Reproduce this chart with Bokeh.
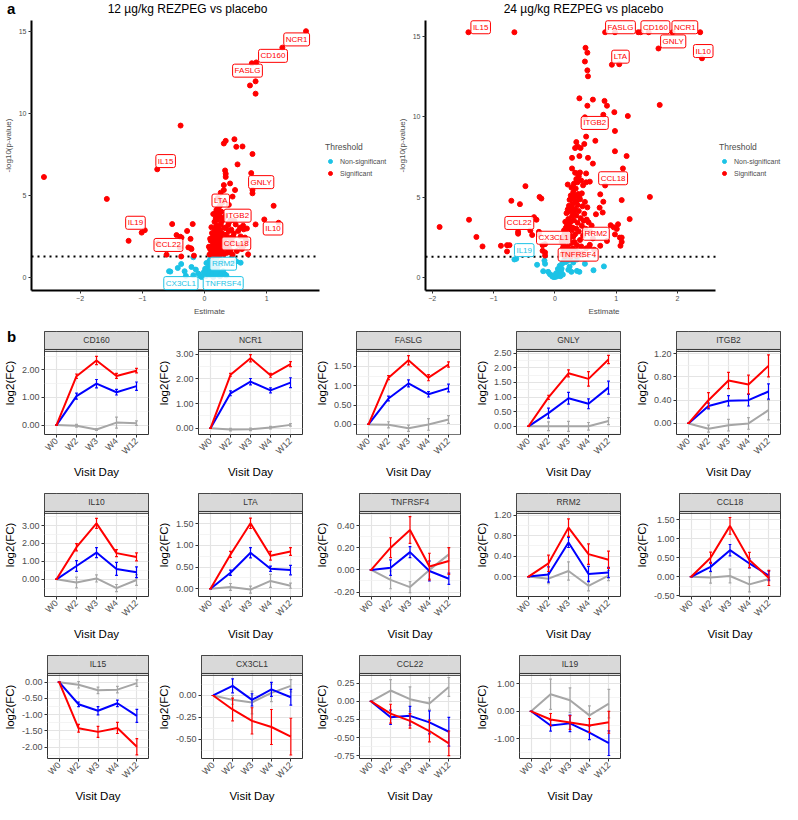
import math
from bokeh.plotting import figure
from bokeh.models import (Range1d, Label, Span, Legend, LegendItem, FixedTicker,
                          NumeralTickFormatter, Div)
from bokeh.layouts import row, column
from bokeh.embed import file_html
from bokeh.resources import INLINE

FONT = "Liberation Sans"
RED = "#FF0000"
CYAN = "#1CC3E6"
BLUE = "#0000FF"
GREY = "#A6A6A6"

# ---------------- volcano data (12 ug/kg) ----------------
v12_sig_est = [1.63, 1.25, 0.83, 0.76, 0.82, 0.73, 0.82, -0.385, -0.76, -2.58, -1.57, -1.01, -0.96, -1.22,
               -0.52, -0.19, -0.28, -0.39, -0.37, -0.225, -0.75, -0.40, -0.26, -0.21, -0.61, -0.375, -0.17,
               -0.45, -0.22, 0.34, 0.31, 0.48, 0.51, 0.61, 0.77, 0.53, 0.33, 0.34, 0.34, 0.75, 0.41, 0.31,
               0.77, 0.77, 0.49, 0.31, 0.26, 0.45, 0.21, 1.11, 0.39, 0.21, 0.26, 0.18, 0.96, 1.19, 0.82, 0.50,
               0.39, 0.68, 0.63, 0.57, 0.39, 0.65, 0.70, 0.42, 0.55, 0.60, 0.67, 0.47, 0.44,
               0.08, 0.11, 0.09, 0.13, 0.15, 0.12, 0.14, 0.10, 0.16, 0.18, 0.17, 0.19, 0.21, 0.20, 0.22, 0.23,
               0.24, 0.25, 0.13, 0.15, 0.17, 0.19, 0.16, 0.18, 0.20, 0.21, 0.22, 0.24, 0.26, 0.27, 0.28, 0.29,
               0.30, 0.31, 0.26, 0.28, 0.23, 0.25, 0.27, 0.30, 0.32, 0.33, 0.35, 0.36, 0.34, 0.37, 0.38, 0.40,
               0.41, 0.43, 0.45, 0.14, 0.12, 0.11, 0.09, 0.07, 0.19, 0.22, 0.25, 0.29, 0.23, 0.21, 0.18, 0.16,
               0.20, 0.26, 0.31, 0.33, 0.28, 0.15, 0.13, 0.24, 0.35, 0.39, 0.42, 0.46, 0.48, 0.52, 0.54, 0.58,
               0.63, 0.62]
v12_sig_nlp = [15.0, 14.0, 13.1, 13.05, 11.95, 11.7, 11.2, 9.26, 6.6, 6.13, 4.8, 2.75, 2.9, 2.25,
               3.27, 3.27, 2.85, 2.5, 2.45, 2.37, 2.1, 1.85, 1.85, 1.75, 1.41, 1.3, 1.35,
               2.6, 1.8, 8.33, 8.17, 8.43, 7.97, 7.99, 7.53, 6.9, 6.53, 6.33, 6.14, 6.37, 5.74, 5.64,
               5.34, 5.14, 5.34, 5.34, 5.18, 4.94, 4.84, 4.38, 4.44, 4.14, 4.04, 3.94, 3.55, 3.35, 3.25, 3.25,
               3.35, 3.0, 2.95, 3.05, 2.85, 2.45, 1.43, 1.55, 2.0, 1.75, 2.25, 2.7, 2.2,
               1.42, 1.58, 1.75, 1.33, 1.49, 1.92, 2.11, 2.26, 1.66, 1.38, 1.84, 2.02, 1.47, 2.33, 1.71, 2.18,
               1.36, 2.55, 2.47, 2.74, 2.96, 3.18, 3.41, 3.63, 3.52, 2.87, 3.05, 2.92, 1.93, 2.41, 1.55, 2.68,
               2.12, 1.44, 3.27, 3.45, 3.86, 3.71, 4.02, 3.58, 2.35, 1.83, 2.62, 1.52, 3.02, 2.05, 3.21, 2.44,
               1.68, 2.93, 1.41, 3.88, 2.72, 3.08, 2.38, 1.89, 4.12, 4.25, 4.4, 4.6, 2.63, 2.21, 2.57, 2.25,
               1.80, 2.77, 3.05, 3.75, 1.72, 1.97, 1.66, 2.02, 1.98, 1.93, 3.51, 2.51, 3.48, 1.63, 2.85, 2.52,
               1.95, 3.17]
v12_ns_est = [-0.57, -0.55, -0.43, -0.375, -0.32, -0.30, -0.21, -0.18, -0.14, -0.10, -0.07, -0.18, -0.05,
              -0.02, 0.02, 0.04, 0.06, 0.08, 0.10, 0.12, 0.07, 0.09, 0.11, 0.13, 0.15, 0.17, 0.19, 0.21, 0.23,
              0.25, 0.27, 0.14, 0.05, 0.03, 0.16, 0.20, 0.24, 0.28, 0.30, 0.33, 0.35, 0.51, 0.58, 0.45, 0.12,
              0.08, 0.10, 0.18, -0.01, 0.01]
v12_ns_nlp = [0.4, 0.38, 0.6, 0.84, 0.4, 0.12, 0.66, 0.16, 0.5, 0.26, 0.12, 1.25, 0.05,
              0.08, 0.1, 0.3, 0.5, 0.7, 0.9, 1.1, 0.2, 0.4, 0.15, 0.3, 0.6, 0.9, 1.15, 0.2, 0.35,
              0.1, 0.25, 0.05, 0.6, 0.9, 0.45, 0.55, 0.8, 1.0, 0.4, 0.2, 0.15, 1.0, 0.92, 0.9, 0.7,
              1.05, 1.25, 0.3, 0.35, 0.55]
v12_lab_names = ["NCR1", "CD160", "FASLG", "IL15", "GNLY", "LTA", "ITGB2", "IL19", "IL10", "CCL22",
                 "CCL18", "RRM2", "CX3CL1", "TNFRSF4"]
v12_lab_est = [1.48, 1.10, 0.69, -0.625, 0.91, 0.26, 0.53, -1.11, 1.10, -0.58, 0.51, 0.30, -0.38, 0.30]
v12_lab_nlp = [14.5, 13.5, 12.6, 7.1, 5.82, 4.7, 3.78, 3.35, 3.0, 2.0, 2.09, 0.86, -0.32, -0.32]
v12_lab_sig = [1, 1, 1, 1, 1, 1, 1, 1, 1, 1, 1, 0, 0, 0]

# ---------------- volcano data (24 ug/kg) ----------------
v24_sig_est = [-1.41, -0.66, 0.82, 0.98, 1.36, 1.40, 1.53, 1.92, 2.37, 1.69, 2.40, 0.93, 1.05, 0.50, 0.53,
               0.49, 0.53, 0.54, 1.71, 0.40, 0.62, 0.81, 0.85, 0.53, 0.97, 0.79, 1.19, 0.49, 0.98, 0.51, 0.66,
               0.35, 0.37, 0.33, 0.42, 0.48, 0.98, 1.17, 0.40, 0.28, 0.54, 0.62, 1.11, 0.28, 0.33, 0.37, 0.51,
               0.35, 0.37, 0.57, 0.51, 0.82, 0.21, -0.48, -0.25, -0.22, -0.71, -0.57, 1.55, 1.09, 0.74, 0.79,
               0.73, 0.78, 0.67, 1.22, -1.40, -1.88, -0.34, -0.30, 0.91, 0.96, 1.01, 1.03, -0.26, -0.26, -0.60,
               -0.60, -0.40, -0.37, -1.28, 0.98, 1.06, 1.09, 1.07, 1.09, 0.85, -1.18, -0.88, -0.78, -0.74, -0.78,
               -0.20, -0.16, -0.20, -0.16, -0.16, 0.74, 0.57, 0.51, 0.23,
               0.12, 0.15, 0.18, 0.20, 0.22, 0.24, 0.17, 0.14, 0.19, 0.21, 0.23, 0.25, 0.27, 0.16, 0.18, 0.20,
               0.22, 0.24, 0.26, 0.28, 0.30, 0.32, 0.29, 0.31, 0.34, 0.36, 0.33, 0.35, 0.37, 0.39, 0.41, 0.43,
               0.38, 0.19, 0.21, 0.23, 0.25, 0.27, 0.29, 0.31, 0.33, 0.35, 0.37, 0.39, 0.42, 0.44, 0.46, 0.48,
               0.24, 0.26, 0.28, 0.30, 0.32, 0.34, 0.36, 0.38, 0.40, 0.27, 0.31, 0.35, 0.45, 0.47, 0.50, 0.52,
               0.44, 0.49, 0.53, 0.55, 0.58, 0.60, 0.62, 0.56, 0.64, 0.13, 0.11, 0.16, 0.26, 0.35, 0.40, 0.45,
               0.27, 0.29, 0.31, 0.25, 0.17, 0.21, 0.15, 0.13, 0.33, 0.29, 0.41, 0.43, 0.46, 0.39, 0.41]
v24_sig_nlp = [15.27, 15.27, 15.27, 15.27, 15.27, 15.27, 15.27, 15.27, 15.27, 14.26, 13.65, 13.25, 13.28, 14.3,
               14.0, 13.45, 12.9, 12.53, 10.75, 11.16, 11.08, 11.0, 10.7, 10.7, 10.3, 10.14, 10.06, 9.98, 9.13,
               8.78, 8.52, 8.44, 8.17, 8.07, 8.07, 8.32, 7.87, 7.57, 7.57, 7.46, 7.46, 7.1, 6.8, 6.8, 6.53, 6.49,
               6.49, 6.14, 5.94, 5.98, 5.94, 5.74, 5.8, 5.7, 5.03, 4.93, 4.79, 4.58, 5.03, 4.83, 5.19, 4.73,
               4.36, 4.06, 3.95, 3.65, 3.61, 3.16, 3.77, 3.61, 3.27, 3.14, 3.04, 3.33, 2.86, 2.7, 2.86,
               2.74, 2.94, 2.66, 2.54, 2.7, 2.5, 2.5, 1.99, 2.23, 2.29, 1.95, 1.99, 2.03, 2.03, 1.64,
               2.03, 2.09, 1.68, 1.58, 1.38, 1.99, 2.05, 1.83, 1.79,
               1.45, 1.62, 1.38, 1.91, 1.52, 2.14, 2.33, 2.05, 2.61, 2.87, 2.42, 1.71, 2.96, 2.78, 3.12, 3.35,
               3.66, 3.21, 3.48, 3.82, 2.55, 2.22, 1.84, 1.47, 1.66, 2.03, 2.71, 3.05, 3.42, 2.88, 2.35, 1.95,
               1.58, 4.02, 4.25, 4.48, 4.12, 4.36, 4.61, 4.05, 4.28, 3.88, 4.52, 4.15, 3.71, 3.23, 2.62, 3.98,
               4.85, 5.12, 4.95, 5.32, 5.08, 5.55, 4.79, 5.21, 5.02, 5.61, 5.85, 5.97, 4.45, 3.55, 3.05, 3.62,
               5.25, 4.72, 4.38, 3.45, 2.85, 3.25, 2.45, 1.95, 1.75, 1.85, 2.25, 1.33, 1.31, 1.35, 1.42, 1.52,
               2.18, 3.12, 3.58, 2.62, 3.48, 3.01, 2.95, 2.55, 4.78, 4.22, 4.88, 6.05, 5.75, 6.32, 6.55]
v24_ns_est = [-0.63, -0.66, -0.29, -0.17, -0.16, -0.19, -0.11, -0.05, -0.02, 0.0, 0.03, 0.06, 0.10, 0.11,
              0.14, 0.21, 0.24, 0.27, 0.36, 0.40, 0.49, 0.36, 0.63, 0.80, 0.19, -0.08, 0.05, 0.08, 0.12, 0.16,
              0.07, 0.01, -0.04, 0.02, 0.09, 0.18, 0.22, 0.13, 0.26, 0.30]
v24_ns_nlp = [1.18, 1.14, 0.81, 1.07, 0.87, 0.41, 0.37, 0.15, 0.05, 0.05, 0.08, 0.2, 0.41, 0.57,
              1.01, 1.07, 0.69, 0.37, 0.43, 0.37, 0.87, 1.14, 0.47, 0.71, 1.18, 0.22, 0.55, 0.75, 0.88, 1.2,
              0.32, 0.12, 0.08, 0.28, 0.1, 0.98, 0.5, 0.2, 1.15, 0.95]
v24_lab_names = ["IL15", "FASLG", "CD160", "NCR1", "GNLY", "IL10", "LTA", "ITGB2", "CCL18", "CCL22",
                 "RRM2", "CX3CL1", "TNFRSF4", "IL19"]
v24_lab_est = [-1.21, 1.07, 1.64, 2.12, 1.93, 2.42, 1.07, 0.65, 0.95, -0.58, 0.67, -0.02, 0.38, -0.50]
v24_lab_nlp = [15.58, 15.58, 15.58, 15.58, 14.7, 14.1, 13.75, 9.63, 6.19, 3.41, 2.74, 2.49, 1.44, 1.72]
v24_lab_sig = [1, 1, 1, 1, 1, 1, 1, 1, 1, 1, 1, 1, 1, 0]

# ---------------- longitudinal data ----------------
GENES = ["CD160", "NCR1", "FASLG", "GNLY", "ITGB2", "IL10", "LTA", "TNFRSF4", "RRM2", "CCL18",
         "IL15", "CX3CL1", "CCL22", "IL19"]
VISITS = ["W0", "W2", "W3", "W4", "W12"]
MEAN_24 = [[0, 1.77, 2.34, 1.78, 1.97], [0, 2.17, 2.84, 2.15, 2.60], [0, 1.21, 1.66, 1.21, 1.55],
           [0, 0.99, 1.81, 1.62, 2.28], [0, 0.40, 0.74, 0.67, 0.99], [0, 1.79, 3.12, 1.46, 1.25],
           [0, 0.79, 1.51, 0.76, 0.86], [0, 0.20, 0.36, 0.03, 0.08], [0, 0.26, 0.96, 0.44, 0.33],
           [0, 0.50, 1.34, 0.44, -0.03], [0, -1.42, -1.53, -1.41, -1.99], [0, -0.16, -0.29, -0.36, -0.47],
           [0, -0.17, -0.27, -0.41, -0.58], [0, -0.30, -0.41, -0.52, -0.40]]
SE_24 = [[0, 0.08, 0.15, 0.09, 0.08], [0, 0.06, 0.15, 0.08, 0.10], [0, 0.05, 0.12, 0.08, 0.07],
         [0, 0.07, 0.12, 0.25, 0.14], [0, 0.13, 0.14, 0.16, 0.19], [0, 0.20, 0.28, 0.20, 0.22],
         [0, 0.07, 0.12, 0.10, 0.09], [0, 0.09, 0.12, 0.12, 0.12], [0, 0.16, 0.17, 0.20, 0.17],
         [0, 0.15, 0.22, 0.20, 0.20], [0, 0.12, 0.17, 0.17, 0.25], [0, 0.13, 0.15, 0.20, 0.21],
         [0, 0.13, 0.10, 0.15, 0.17], [0, 0.22, 0.25, 0.25, 0.40]]
MEAN_12 = [[0, 1.05, 1.50, 1.19, 1.41], [0, 1.42, 1.89, 1.54, 1.85], [0, 0.67, 1.06, 0.78, 0.94],
           [0, 0.45, 0.96, 0.77, 1.32], [0, 0.30, 0.39, 0.40, 0.55], [0, 0.74, 1.49, 0.58, 0.39],
           [0, 0.37, 0.83, 0.46, 0.43], [0, 0.02, 0.16, -0.01, -0.08], [0, 0.04, 0.67, 0.05, 0.08],
           [0, 0.26, 0.70, 0.35, 0.03], [0, -0.68, -0.88, -0.65, -1.04], [0, 0.11, -0.05, 0.07, -0.02],
           [0, -0.22, -0.20, -0.29, -0.42], [0, -0.52, -0.44, -0.78, -1.16]]
SE_12 = [[0, 0.11, 0.15, 0.10, 0.15], [0, 0.10, 0.13, 0.10, 0.20], [0, 0.06, 0.09, 0.07, 0.10],
         [0, 0.17, 0.20, 0.17, 0.22], [0, 0.05, 0.09, 0.10, 0.13], [0, 0.30, 0.28, 0.36, 0.30],
         [0, 0.06, 0.12, 0.06, 0.11], [0, 0.07, 0.05, 0.09, 0.05], [0, 0.15, 0.10, 0.15, 0.10],
         [0, 0.12, 0.15, 0.12, 0.12], [0, 0.07, 0.13, 0.10, 0.20], [0, 0.08, 0.07, 0.08, 0.09],
         [0, 0.10, 0.13, 0.16, 0.20], [0, 0.20, 0.30, 0.25, 0.45]]
MEAN_PBO = [[0, -0.02, -0.16, 0.09, 0.07], [0, -0.05, -0.04, 0.03, 0.14], [0, -0.01, -0.10, 0.00, 0.13],
            [0, 0.00, 0.00, 0.00, 0.18], [0, -0.09, -0.03, 0.00, 0.23], [0, -0.18, 0.05, -0.49, -0.04],
            [0, 0.04, -0.02, 0.18, 0.07], [0, -0.09, -0.155, 0.00, 0.14], [0, -0.04, 0.11, -0.18, 0.02],
            [0, -0.02, 0.02, -0.20, -0.06], [0, -0.08, -0.25, -0.23, -0.03], [0, -0.05, -0.08, 0.03, 0.11],
            [0, 0.15, 0.03, -0.03, 0.20], [0, 0.62, 0.40, -0.15, 0.28]]
SE_PBO = [[0, 0.05, 0.03, 0.20, 0.08], [0, 0.05, 0.05, 0.05, 0.05], [0, 0.08, 0.08, 0.15, 0.10],
          [0, 0.15, 0.17, 0.13, 0.12], [0, 0.06, 0.10, 0.10, 0.17], [0, 0.30, 0.20, 0.20, 0.30],
          [0, 0.08, 0.08, 0.15, 0.06], [0, 0.08, 0.05, 0.08, 0.06], [0, 0.10, 0.18, 0.10, 0.10],
          [0, 0.15, 0.18, 0.20, 0.05], [0, 0.10, 0.10, 0.10, 0.10], [0, 0.05, 0.13, 0.10, 0.07],
          [0, 0.15, 0.17, 0.08, 0.13], [0, 0.55, 0.45, 0.35, 0.52]]
Y_TICKS = [[0, 1, 2], [0, 1, 2, 3], [0, 0.5, 1, 1.5], [0, 0.5, 1, 1.5, 2, 2.5], [0, 0.4, 0.8, 1.2],
           [0, 1, 2, 3], [0, 0.5, 1, 1.5], [-0.2, 0, 0.2, 0.4], [0, 0.4, 0.8, 1.2], [-0.5, 0, 0.5, 1, 1.5],
           [-2, -1.5, -1, -0.5, 0], [-0.5, -0.25, 0], [-0.75, -0.5, -0.25, 0, 0.25], [-1, 0, 1]]
Y_LIMITS = [(-0.34, 2.67), (-0.25, 3.12), (-0.26, 1.89), (-0.28, 2.56), (-0.19, 1.24), (-0.96, 3.68),
            (-0.18, 1.74), (-0.24, 0.51), (-0.39, 1.24), (-0.52, 1.67), (-2.35, 0.21), (-0.72, 0.23),
            (-0.79, 0.36), (-1.72, 1.31)]


def style_axis(ax, lab_size, lab_color, title_size, title_color):
    ax.major_label_text_font = FONT
    ax.major_label_text_font_size = lab_size
    ax.major_label_text_color = lab_color
    ax.axis_label_text_font = FONT
    ax.axis_label_text_font_size = title_size
    ax.axis_label_text_color = title_color
    ax.axis_label_text_font_style = "normal"
    ax.major_tick_line_color = "#333333"
    ax.major_tick_out = 3
    ax.major_tick_in = 0
    ax.minor_tick_line_color = None
    ax.major_label_standoff = 2
    ax.axis_label_standoff = 3


def volcano(title, sx, sy, nx, ny, lnames, lx, ly, lsig, xr, yr, xticks, width, left, data_w, title_x):
    H, bottom, head = 318, 28, 20
    fh = H - bottom                 # frame spans up to the top edge
    data_h = fh - head
    ext_w = width - left - data_w   # legend area to the right of the data area
    x_end = xr[1] + (xr[1] - xr[0]) * ext_w / data_w
    y_end = yr[1] + (yr[1] - yr[0]) * head / data_h
    p = figure(width=width, height=H, x_range=Range1d(xr[0], x_end), y_range=Range1d(yr[0], y_end),
               output_backend="svg", toolbar_location=None,
               min_border_left=left, min_border_right=0, min_border_top=0, min_border_bottom=bottom)
    p.border_fill_color = None
    p.outline_line_color = None
    p.grid.visible = False
    for ax in (p.xaxis[0], p.yaxis[0]):
        style_axis(ax, "7px", "#4D4D4D", "8px", "#4D4D4D")
        ax.axis_line_color = "black"
        ax.axis_line_width = 2
    p.xaxis.bounds = xr
    p.yaxis.bounds = yr
    p.xaxis.ticker = FixedTicker(ticks=xticks)
    p.yaxis.ticker = FixedTicker(ticks=[0, 5, 10, 15])
    p.xaxis.axis_label = "Estimate"
    p.yaxis.axis_label = "-log10(p-value)"
    thr = -math.log10(0.05)
    p.line([xr[0], xr[1]], [thr, thr], line_color="black", line_dash="2 4", line_width=2)
    r_ns = p.scatter(nx, ny, size=5, color=CYAN)
    r_s = p.scatter(sx, sy, size=5, color=RED)
    for n, x, y, s in zip(lnames, lx, ly, lsig):
        c = RED if s else CYAN
        p.add_layout(Label(x=x, y=y, text=n, text_font=FONT, text_font_size="8px", text_color=c,
                           text_align="center", text_baseline="middle",
                           background_fill_color="white", background_fill_alpha=0.85,
                           border_line_color=c, border_line_width=1, padding=2, border_radius=2))
    leg = Legend(items=[LegendItem(label="Non-significant", renderers=[r_ns]),
                        LegendItem(label="Significant", renderers=[r_s])],
                 title="Threshold", location=(data_w + 4, data_h / 2 - 24),
                 title_text_font=FONT, title_text_font_size="8.5px", title_text_color="#4D4D4D",
                 title_text_font_style="normal", label_text_font=FONT, label_text_font_size="7px",
                 label_text_color="#4D4D4D", glyph_width=10, glyph_height=12, label_height=12,
                 label_standoff=5, spacing=0, padding=4, margin=0, title_standoff=3,
                 border_line_color=None, background_fill_alpha=0)
    p.add_layout(leg)
    p.add_layout(Label(x=title_x, y=fh - 8, x_units="screen", y_units="screen", text=title,
                       text_font=FONT, text_font_size="12px", text_color="black",
                       text_align="center", text_baseline="middle"))
    return p


def minors(ticks, lo, hi):
    step = ticks[1] - ticks[0]
    cands = [ticks[0] - step / 2] + [t + step / 2 for t in ticks]
    return [c for c in cands if lo < c < hi]


def small(i, width, left, right):
    lo, hi = Y_LIMITS[i]
    H, top, bottom = 162, 13, 40
    fh = H - top - bottom
    sh, gap = 19.0, 2.0
    ph = fh - sh - gap
    upp = (hi - lo) / ph
    ytop = hi + (sh + gap) * upp
    xs = list(range(1, len(VISITS) + 1))
    p = figure(width=width, height=H, x_range=Range1d(0.4, len(VISITS) + 0.6), y_range=Range1d(lo, ytop),
               output_backend="svg", toolbar_location=None,
               min_border_left=left, min_border_right=right, min_border_top=top, min_border_bottom=bottom)
    p.border_fill_color = None
    p.outline_line_color = "#333333"
    p.outline_line_width = 1
    p.xgrid.ticker = FixedTicker(ticks=xs)
    p.ygrid.ticker = FixedTicker(ticks=Y_TICKS[i], minor_ticks=minors(Y_TICKS[i], lo, hi))
    p.grid.grid_line_color = "#E4E4E4"
    p.grid.grid_line_width = 1.2
    p.ygrid.minor_grid_line_color = "#EFEFEF"
    p.ygrid.minor_grid_line_width = 0.7
    for ax in (p.xaxis[0], p.yaxis[0]):
        style_axis(ax, "9px", "#4D4D4D", "11.5px", "black")
        ax.axis_line_color = None
    p.yaxis.ticker = FixedTicker(ticks=Y_TICKS[i])
    p.yaxis.formatter = NumeralTickFormatter(format="0.00")
    p.yaxis.axis_label = "log2(FC)"
    p.xaxis.ticker = FixedTicker(ticks=xs)
    p.xaxis.major_label_overrides = {x: v for x, v in zip(xs, VISITS)}
    p.xaxis.major_label_orientation = math.pi / 4
    p.xaxis.axis_label = "Visit Day"
    # facet strip
    p.quad(left=[0.4], right=[len(VISITS) + 0.6], bottom=[hi + gap * upp], top=[ytop],
           fill_color="#D9D9D9", line_color="#333333", line_width=1)
    p.add_layout(Span(location=hi, dimension="width", line_color="#333333", line_width=1))
    p.add_layout(Label(x=(1 + len(VISITS)) / 2, y=hi + (gap + sh / 2) * upp, text=GENES[i], text_font=FONT,
                       text_font_size="8.5px", text_font_style="normal", text_color="#333333",
                       text_align="center", text_baseline="middle"))
    for means, ses, col in ((MEAN_PBO[i], SE_PBO[i], GREY), (MEAN_12[i], SE_12[i], BLUE),
                            (MEAN_24[i], SE_24[i], RED)):
        lows = [m - s for m, s in zip(means, ses)]
        highs = [m + s for m, s in zip(means, ses)]
        p.segment(xs, lows, xs, highs, line_color=col, line_width=1.2)
        p.segment([x - 0.07 for x in xs], lows, [x + 0.07 for x in xs], lows, line_color=col, line_width=1.2)
        p.segment([x - 0.07 for x in xs], highs, [x + 0.07 for x in xs], highs, line_color=col, line_width=1.2)
        p.line(xs, means, line_color=col, line_width=2)
    return p


def letter(txt, margin, lh):
    return Div(text=txt, width=20, height=lh, margin=margin,
               styles={"font-family": FONT, "font-size": "15px", "font-weight": "bold",
                       "line-height": f"{lh}px", "position": "relative", "z-index": "10", "color": "black"})


v1 = volcano("12 \u00b5g/kg REZPEG vs placebo", v12_sig_est, v12_sig_nlp, v12_ns_est, v12_ns_nlp,
             v12_lab_names, v12_lab_est, v12_lab_nlp, v12_lab_sig, (-2.78, 1.84), (-0.77, 15.65),
             [-2, -1, 0, 1], 387, 28, 290, 156)
v2 = volcano("24 \u00b5g/kg REZPEG vs placebo", v24_sig_est, v24_sig_nlp, v24_ns_est, v24_ns_nlp,
             v24_lab_names, v24_lab_est, v24_lab_nlp, v24_lab_sig, (-2.11, 2.62), (-0.79, 16.0),
             [-2, -1, 0, 1, 2], 395, 38, 290, 158)

widths = [154, 158, 160, 160, 150]
figs = []
for i in range(len(GENES)):
    c = i % 5
    figs.append(small(i, widths[c], 42, widths[c] - 42 - 106))

layout = column(letter("a", (0, 0, -18, 7), 18), row(v1, v2),
                letter("b", (11, 0, -27, 7), 16),
                row(*figs[0:5]), row(*figs[5:10]), row(*figs[10:14]))
open("out.html", "w").write(file_html(layout, INLINE))
